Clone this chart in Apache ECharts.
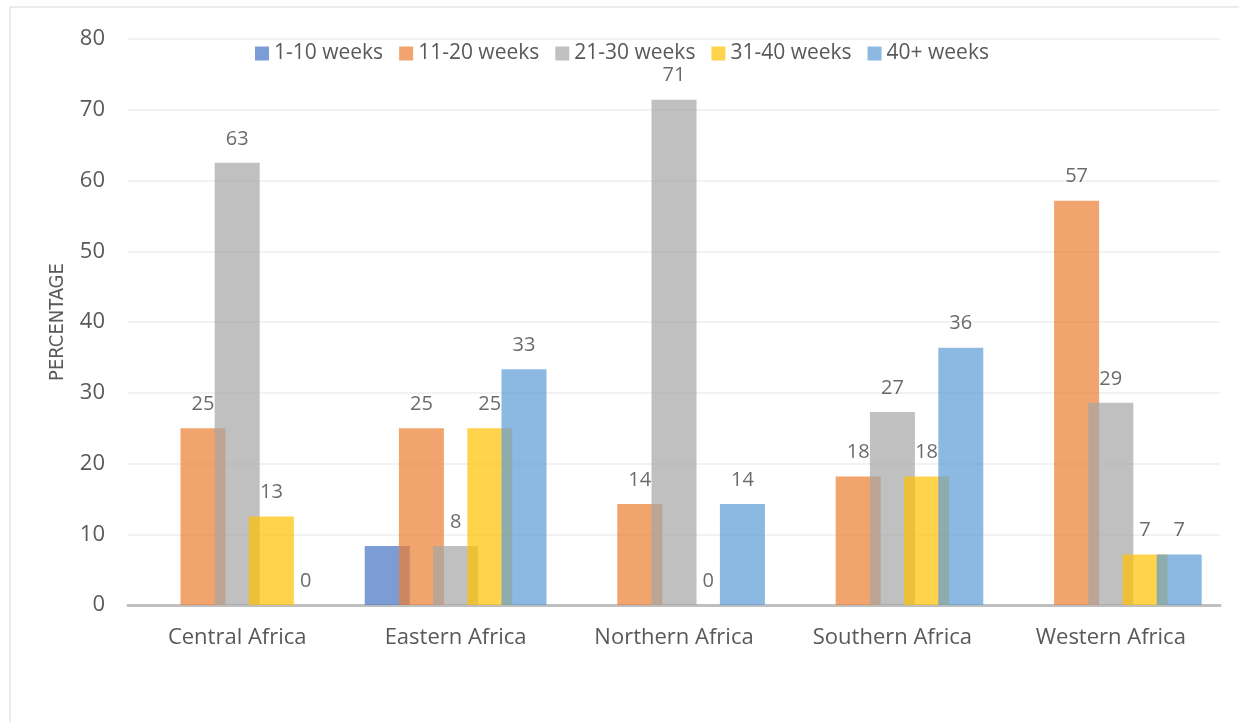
<!DOCTYPE html>
<html>
<head>
<meta charset="utf-8">
<script src="https://cdn.jsdelivr.net/npm/echarts@6/dist/echarts.min.js"></script>
<style>
html,body{margin:0;padding:0;background:#fff;}
#main{width:1239px;height:722px;}
</style>
</head>
<body>
<div id="main"></div>
<script>
// regions and week bands
var regions = ['Central Africa', 'Eastern Africa', 'Northern Africa', 'Southern Africa', 'Western Africa'];
var bands = ['1-10 weeks', '11-20 weeks', '21-30 weeks', '31-40 weeks', '40+ weeks'];
var colors = ['#4472C4', '#ED7D31', '#A5A5A5', '#FFC000', '#5B9BD5'];

// percentages per band (null = no bar)
var w1_10  = [null, 8.33, null, null, null];
var w11_20 = [25, 25, 14.29, 18.18, 57.14];
var w21_30 = [62.5, 8.33, 71.43, 27.27, 28.57];
var w31_40 = [12.5, 25, 0, 18.18, 7.14];
var w40p   = [0, 33.33, 14.29, 36.36, 7.14];
var values = [w1_10, w11_20, w21_30, w31_40, w40p];

var yTicks = {min: 0, max: 80, interval: 10};

var font = '"Open Sans", "DejaVu Sans", sans-serif';

var series = [];
for (var i = 0; i < bands.length; i++) {
	series.push({
		name: bands[i],
		type: 'bar',
		data: values[i],
		barWidth: 45,
		barGap: '-24%',
		itemStyle: {color: colors[i], opacity: 0.7},
		label: {
			show: i > 0,   // 1-10 weeks has no data labels
			position: 'top',
			distance: 14,
			color: '#2b2b2b',
			fontSize: 20,
			fontFamily: font,
			formatter: function (p) {
				return p.value == null ? '' : Math.round(p.value);
			}
		},
		emphasis: {disabled: true}
	});
}

var myChart = echarts.init(document.getElementById('main'));
myChart.setOption({
	animation: false,
	graphic: [{
		type: 'rect',
		shape: {x: 10, y: 7, width: 1250, height: 740},
		style: {fill: 'none', stroke: '#D9D9D9', lineWidth: 1}
	}],
	legend: {
		top: 38,
		left: 250,
		itemWidth: 14,
		itemHeight: 14,
		itemGap: 16,
		icon: 'rect',
		textStyle: {color: '#595959', fontSize: 21, fontFamily: font},
		data: bands
	},
	grid: {left: 128, right: 19, top: 39, bottom: 117},
	xAxis: {
		type: 'category',
		data: regions,
		axisLine: {lineStyle: {color: '#BFBFBF', width: 3}},
		axisTick: {show: false},
		axisLabel: {color: '#595959', fontSize: 22, fontFamily: font, margin: 22}
	},
	yAxis: {
		type: 'value',
		min: yTicks.min,
		max: yTicks.max,
		interval: yTicks.interval,
		name: 'PERCENTAGE',
		nameLocation: 'middle',
		nameRotate: 90,
		nameGap: 60,
		nameTextStyle: {color: '#595959', fontSize: 20, fontFamily: '"Liberation Sans Narrow", "DejaVu Sans Condensed", sans-serif'},
		axisLine: {show: false},
		axisTick: {show: false},
		axisLabel: {color: '#595959', fontSize: 22, fontFamily: font, margin: 23},
		splitLine: {lineStyle: {color: '#EEEEEE', width: 1.5}}
	},
	series: series
});
</script>
</body>
</html>
